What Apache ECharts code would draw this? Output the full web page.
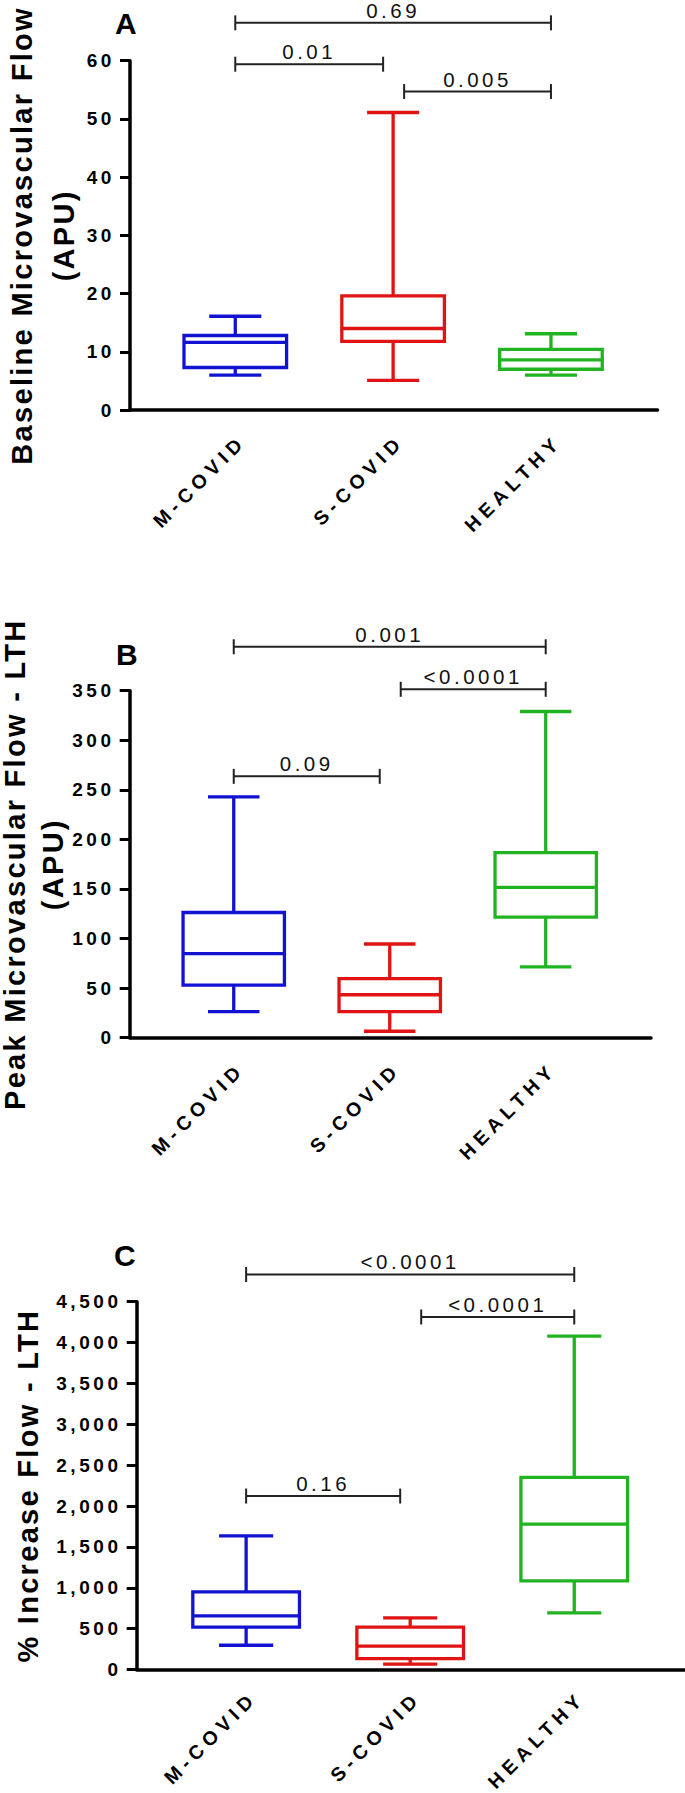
<!DOCTYPE html>
<html>
<head>
<meta charset="utf-8">
<script src="https://cdn.jsdelivr.net/npm/echarts@6/dist/echarts.min.js"></script>
<style>
html,body{margin:0;padding:0;background:#ffffff;}
#chart{width:685px;height:1793px;}
</style>
</head>
<body>
<div id="chart"></div>
<script>
// ---------- data ----------
const categories = ['M-COVID', 'S-COVID', 'HEALTHY'];
const groupColors = ['#1212d2', '#e01414', '#22b322'];

// box statistics per group: [min, Q1, median, Q3, max]
const baselineFlow = [
  [6.0, 7.3, 11.6, 12.8, 16.1],
  [5.1, 11.8, 14.0, 19.6, 51.1],
  [6.0, 7.0, 8.6, 10.4, 13.1]
];
const peakFlow = [
  [26.3, 53.0, 84.8, 126.3, 242.9],
  [6.5, 26.3, 43.3, 59.5, 94.5],
  [71.5, 121.6, 151.6, 186.6, 329.0]
];
const increaseFlow = [
  [298, 519, 658, 951, 1635],
  [67, 134, 288, 519, 633],
  [694, 1085, 1779, 2350, 4078]
];

// significance brackets: [from category, to category, level, p-value text]
const bracketsA = [[0, 2, 66.5, '0.69'], [0, 1, 59.4, '0.01'], [1, 2, 54.7, '0.005']];
const bracketsB = [[0, 2, 394.3, '0.001'], [1, 2, 351.4, '<0.0001'], [0, 1, 263.6, '0.09']];
const bracketsC = [[0, 2, 4833, '<0.0001'], [1, 2, 4313, '<0.0001'], [0, 1, 2123, '0.16']];

// y axis ranges: [min, max, step]
const yRangeA = [0, 60, 10];
const yRangeB = [0, 350, 50];
const yRangeC = [0, 4500, 500];

const titleA = 'Baseline Microvascular Flow\n(APU)';
const titleB = 'Peak Microvascular Flow - LTH\n(APU)';
const titleC = '% Increase Flow - LTH';
const panelLetters = ['A', 'B', 'C'];

// ---------- layout ----------
const FONT = '"Liberation Sans", Arial, Helvetica, sans-serif';
const panels = [
  { letter: panelLetters[0], stats: baselineFlow, brackets: bracketsA, range: yRangeA, title: titleA,
    grid: { left: 130, top: 60.7, width: 527.5, height: 349.3 }, nameGap: 45, lineH: 42,
    letterPos: [126, 23.5], comma: false, labelMargin: 21 },
  { letter: panelLetters[1], stats: peakFlow, brackets: bracketsB, range: yRangeB, title: titleB,
    grid: { left: 129.7, top: 690.7, width: 521.3, height: 347 }, nameGap: 57.5, lineH: 38,
    letterPos: [127, 654], comma: false, labelMargin: 21 },
  { letter: panelLetters[2], stats: increaseFlow, brackets: bracketsC, range: yRangeC, title: titleC,
    grid: { left: 136.7, top: 1301.7, width: 548.3, height: 367.9 }, nameGap: 87.3, lineH: 42,
    letterPos: [125, 1255], comma: true, labelMargin: 18 }
];

function fmtComma(v) { return String(v).replace(/\B(?=(\d{3})+(?!\d))/g, ','); }

const grids = [], xAxes = [], yAxes = [], series = [], graphics = [];

panels.forEach((p, k) => {
  grids.push(Object.assign({ containLabel: false, outerBoundsMode: 'none' }, p.grid));
  xAxes.push({
    type: 'value', gridIndex: k, min: -0.667, max: 2.675,
    axisLine: { show: true, onZero: false, lineStyle: { color: '#000', width: 3.5 } },
    axisTick: { show: false },
    splitLine: { show: false },
    axisLabel: {
      customValues: [0, 1, 2],
      formatter: v => categories[Math.round(v)] || '',
      rotate: 45, margin: p.labelMargin, align: 'right', verticalAlign: 'top',
      color: '#000', fontFamily: FONT, fontWeight: 'bold', fontSize: 19.5
    }
  });
  yAxes.push({
    type: 'value', gridIndex: k, min: p.range[0], max: p.range[1], interval: p.range[2],
    axisLine: { show: true, onZero: false, lineStyle: { color: '#000', width: 3.5 } },
    axisTick: { show: true, length: 10, lineStyle: { color: '#000', width: 3 } },
    splitLine: { show: false },
    axisLabel: {
      margin: 15, color: '#000', fontFamily: FONT, fontWeight: 'bold', fontSize: 19,
      formatter: v => p.comma ? fmtComma(v) : String(v)
    },
    name: p.title, nameLocation: 'middle', nameRotate: 90, nameGap: p.nameGap,
    nameMoveOverlap: false,
    nameTextStyle: { color: '#000', fontFamily: FONT, fontWeight: 'bold', fontSize: 29, lineHeight: p.lineH }
  });

  // boxes
  series.push({
    type: 'custom', xAxisIndex: k, yAxisIndex: k, clip: false, silent: true,
    data: p.stats.map((s, i) => [i].concat(s)),
    encode: { x: 0, y: [1, 2, 3, 4, 5] },
    renderItem: function (params, api) {
      const i = api.value(0);
      const mn = api.value(1), q1 = api.value(2), md = api.value(3), q3 = api.value(4), mx = api.value(5);
      const cx = api.coord([i, md])[0];
      const y = v => api.coord([i, v])[1];
      const bw = api.size([0.65, 0])[0];
      const cw = api.size([0.33, 0])[0];
      const color = groupColors[i];
      const st = { stroke: color, lineWidth: 3.3, fill: null };
      return {
        type: 'group',
        children: [
          { type: 'line', shape: { x1: cx, y1: y(q3), x2: cx, y2: y(mx) }, style: st },
          { type: 'line', shape: { x1: cx, y1: y(q1), x2: cx, y2: y(mn) }, style: st },
          { type: 'line', shape: { x1: cx - cw / 2, y1: y(mx), x2: cx + cw / 2, y2: y(mx) }, style: st },
          { type: 'line', shape: { x1: cx - cw / 2, y1: y(mn), x2: cx + cw / 2, y2: y(mn) }, style: st },
          { type: 'rect', shape: { x: cx - bw / 2, y: y(q3), width: bw, height: y(q1) - y(q3) },
            style: { stroke: color, lineWidth: 3.3, fill: '#ffffff' } },
          { type: 'line', shape: { x1: cx - bw / 2, y1: y(md), x2: cx + bw / 2, y2: y(md) }, style: st }
        ]
      };
    }
  });

  // significance brackets
  series.push({
    type: 'custom', xAxisIndex: k, yAxisIndex: k, clip: false, silent: true,
    data: p.brackets.map(b => [b[0], b[1], b[2]]),
    encode: { x: [0, 1], y: 2 },
    renderItem: function (params, api) {
      const b = p.brackets[params.dataIndex];
      const a1 = api.coord([api.value(0), api.value(2)]);
      const a2 = api.coord([api.value(1), api.value(2)]);
      const x1 = a1[0] + (api.value(0) === 1 ? 11 : 0);
      const x2 = a2[0] - (api.value(1) === 1 ? 10 : 0);
      const yy = a1[1];
      const st = { stroke: '#222', lineWidth: 2, fill: null };
      return {
        type: 'group',
        children: [
          { type: 'line', shape: { x1: x1, y1: yy, x2: x2, y2: yy }, style: st },
          { type: 'line', shape: { x1: x1, y1: yy - 7.5, x2: x1, y2: yy + 7.5 }, style: st },
          { type: 'line', shape: { x1: x2, y1: yy - 7.5, x2: x2, y2: yy + 7.5 }, style: st },
          { type: 'text', style: { text: b[3], x: (x1 + x2) / 2, y: yy - 12.5, align: 'center', verticalAlign: 'middle',
              fill: '#111', font: 'normal 20.5px ' + FONT, lineHeight: 20 } }
        ]
      };
    }
  });

  graphics.push({
    type: 'text', left: p.letterPos[0] - 11, top: p.letterPos[1] - 15,
    style: { text: p.letter, fill: '#000', font: 'bold 30px ' + FONT }
  });
});

const chart = echarts.init(document.getElementById('chart'), null, { renderer: 'svg', width: 685, height: 1793 });
chart.setOption({
  backgroundColor: '#ffffff',
  animation: false,
  grid: grids,
  xAxis: xAxes,
  yAxis: yAxes,
  series: series,
  graphic: graphics
});

// letter-spacing like the original figure typography
function applySpacing() {
  document.querySelectorAll('#chart svg text').forEach(t => {
    const cs = getComputedStyle(t);
    const fs = parseFloat(cs.fontSize);
    let ls = 0;
    if (Math.abs(fs - 29) < 0.1) ls = 2.3;
    else if (Math.abs(fs - 19.5) < 0.1) ls = 5.3;
    else if (Math.abs(fs - 19) < 0.1) ls = 3.6;
    else if (Math.abs(fs - 20.5) < 0.1) ls = 3.5;
    t.style.letterSpacing = ls + 'px';
  });
}
applySpacing();
chart.on('finished', applySpacing);
setTimeout(applySpacing, 0);
setTimeout(applySpacing, 100);
</script>
</body>
</html>
